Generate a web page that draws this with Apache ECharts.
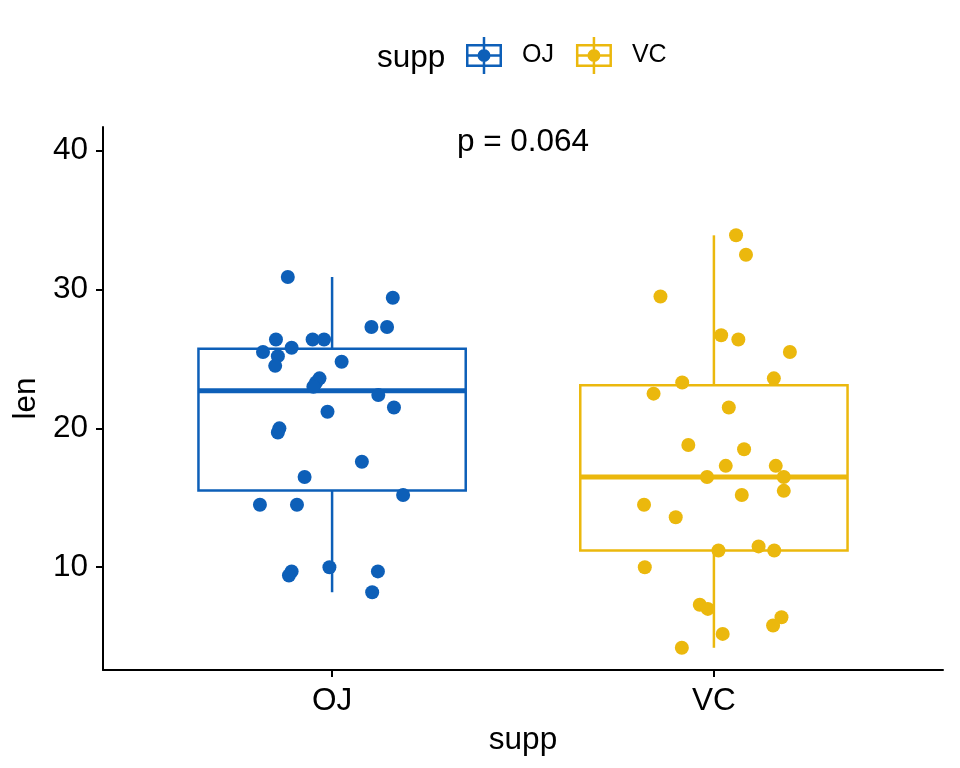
<!DOCTYPE html>
<html>
<head>
    <meta charset="utf-8">
    <script src="https://cdn.jsdelivr.net/npm/echarts@6/dist/echarts.min.js"></script>
</head>
<body style="margin:0">
    <div id="main" style="width: 960px; height: 768px"></div>
    <script type="text/javascript">
        // groups on the x axis (positions 1 and 2)
        var groups = ['OJ', 'VC'];
        var colors = ['#0d5fb8', '#ebb80d'];

        // jittered points: [x position, len]
        var ojPoints = [
            [0.884, 30.9], [1.159, 29.4], [1.103, 27.3], [1.144, 27.3], [0.853, 26.4],
            [0.949, 26.4], [0.979, 26.4], [0.819, 25.5], [0.894, 25.8], [0.858, 25.2],
            [0.851, 24.5], [1.025, 24.8], [0.967, 23.6], [0.958, 23.3], [0.951, 23.0],
            [1.121, 22.4], [1.162, 21.5], [0.988, 21.2], [0.862, 20.0], [0.858, 19.7],
            [1.078, 17.6], [0.928, 16.5], [0.811, 14.5], [0.908, 14.5], [1.186, 15.2],
            [0.894, 9.7], [0.887, 9.4], [0.993, 10.0], [1.120, 9.7], [1.105, 8.2]
        ];
        var vcPoints = [
            [2.058, 33.9], [2.084, 32.5], [1.860, 29.5], [2.019, 26.7], [2.064, 26.4],
            [2.199, 25.5], [2.157, 23.6], [1.917, 23.3], [1.842, 22.5], [2.039, 21.5],
            [1.933, 18.8], [2.079, 18.5], [2.031, 17.3], [2.162, 17.3], [1.982, 16.5],
            [2.183, 16.5], [2.073, 15.2], [2.183, 15.5], [1.817, 14.5], [1.900, 13.6],
            [2.012, 11.2], [2.117, 11.5], [2.158, 11.2], [1.819, 10.0], [1.963, 7.3],
            [1.984, 7.0], [2.177, 6.4], [2.155, 5.8], [2.023, 5.2], [1.916, 4.2]
        ];

        // box stats: [x, lower whisker, Q1, median, Q3, upper whisker]
        var ojBox = [[1, 8.2, 15.525, 22.7, 25.725, 30.9]];
        var vcBox = [[2, 4.2, 11.2, 16.5, 23.1, 33.9]];

        var yTicks = [10, 20, 30, 40];
        var pText = [[1.5, 40.6, 'p = 0.064']];

        var boxWidth = 0.7;
        var font = 'Liberation Sans';
        var bigFont = 31.5;

        function renderBox(params, api) {
            var x = api.value(0);
            var hw = boxWidth / 2;
            var color = api.visual('color');
            var tl = api.coord([x - hw, api.value(4)]);
            var br = api.coord([x + hw, api.value(2)]);
            var mL = api.coord([x - hw, api.value(3)]);
            var mR = api.coord([x + hw, api.value(3)]);
            var top = api.coord([x, api.value(5)]);
            var bot = api.coord([x, api.value(1)]);
            var stroke = { stroke: color, lineWidth: 2.5, fill: null };
            return {
                type: 'group',
                children: [
                    { type: 'line', shape: { x1: top[0], y1: top[1], x2: top[0], y2: tl[1] }, style: stroke },
                    { type: 'line', shape: { x1: bot[0], y1: bot[1], x2: bot[0], y2: br[1] }, style: stroke },
                    { type: 'rect', shape: { x: tl[0], y: tl[1], width: br[0] - tl[0], height: br[1] - tl[1] }, style: stroke },
                    { type: 'line', shape: { x1: mL[0], y1: mL[1], x2: mR[0], y2: mR[1] }, style: { stroke: color, lineWidth: 5 } }
                ]
            };
        }

        function renderText(params, api) {
            var p = api.coord([api.value(0), api.value(1)]);
            return {
                type: 'text',
                x: p[0], y: p[1],
                style: {
                    text: pText[params.dataIndex][2],
                    fontSize: bigFont, fontFamily: font, fill: '#000',
                    align: 'center', verticalAlign: 'middle'
                }
            };
        }

        // legend key: box outline with median line, whiskers and a dot
        var keyIcon = 'path://M0 7H36V9.5H0Z M0 27.5H36V30H0Z M0 7H2.5V30H0Z M33.5 7H36V30H33.5Z ' +
            'M0 17.25H36V19.75H0Z M16.75 0H19.25V37H16.75Z ' +
            'M11.5 18.5A6.5 6.5 0 1 1 24.5 18.5A6.5 6.5 0 1 1 11.5 18.5Z';

        var myChart = echarts.init(document.getElementById('main'));
        var option = {
            animation: false,
            title: {
                text: 'supp', left: 377, top: 42, padding: 0,
                textStyle: { fontSize: bigFont, fontWeight: 'normal', fontFamily: font, color: '#000' }
            },
            legend: {
                data: groups, left: 466, top: 37, padding: 0,
                itemWidth: 36, itemHeight: 37, itemGap: 22,
                icon: keyIcon,
                textStyle: { fontSize: 25, fontFamily: font, color: '#000', padding: [3, 0, 0, 15] }
            },
            grid: { left: 103, right: 17, top: 127, bottom: 98 },
            xAxis: {
                type: 'value', min: 0.4, max: 2.6,
                name: 'supp', nameLocation: 'middle', nameGap: 54,
                nameTextStyle: { fontSize: bigFont, fontFamily: font, color: '#000' },
                axisLine: { show: true, lineStyle: { color: '#000', width: 2 } },
                axisTick: { show: true, length: 7, lineStyle: { color: '#000', width: 2 }, customValues: [1, 2] },
                axisLabel: {
                    fontSize: bigFont, fontFamily: font, color: '#000', margin: 15,
                    customValues: [1, 2],
                    formatter: function (v) { return groups[Math.round(v) - 1]; }
                },
                splitLine: { show: false }
            },
            yAxis: {
                type: 'value', min: 2.6, max: 41.7,
                name: 'len', nameLocation: 'middle', nameGap: 61,
                nameTextStyle: { fontSize: bigFont, fontFamily: font, color: '#000' },
                axisLine: { show: true, lineStyle: { color: '#000', width: 2 } },
                axisTick: { show: true, length: 7, lineStyle: { color: '#000', width: 2 }, customValues: yTicks },
                axisLabel: { fontSize: bigFont, fontFamily: font, color: '#000', margin: 15, customValues: yTicks },
                splitLine: { show: false }
            },
            series: [
                { name: 'OJ', type: 'custom', renderItem: renderBox, data: ojBox, itemStyle: { color: colors[0] },
                  encode: { x: 0, y: [1, 2, 3, 4, 5] }, z: 2 },
                { name: 'VC', type: 'custom', renderItem: renderBox, data: vcBox, itemStyle: { color: colors[1] },
                  encode: { x: 0, y: [1, 2, 3, 4, 5] }, z: 2 },
                { name: 'OJ', type: 'scatter', data: ojPoints, symbolSize: 14, itemStyle: { color: colors[0], opacity: 1 }, z: 3 },
                { name: 'VC', type: 'scatter', data: vcPoints, symbolSize: 14, itemStyle: { color: colors[1], opacity: 1 }, z: 3 },
                { name: 'pval', type: 'custom', renderItem: renderText, data: pText, encode: { x: 0, y: 1 }, silent: true }
            ]
        };
        myChart.setOption(option);
    </script>
</body>
</html>
